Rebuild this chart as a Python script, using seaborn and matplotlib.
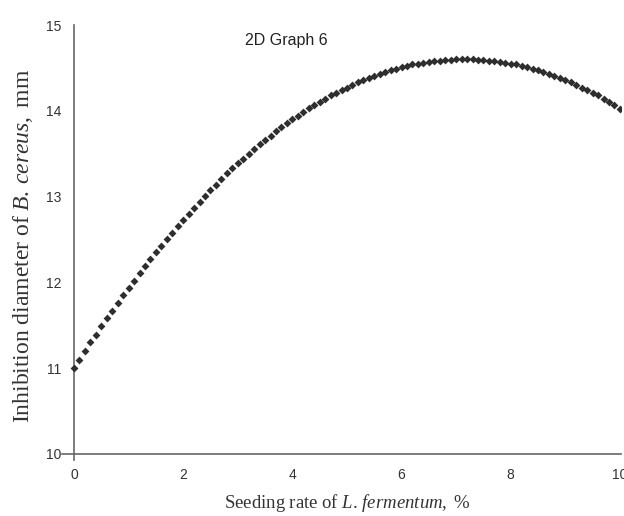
import matplotlib
matplotlib.use("Agg")
import matplotlib.pyplot as plt
import seaborn as sns
import pandas as pd

seeding_rate = [0.0, 0.1, 0.2, 0.3, 0.4, 0.5, 0.6, 0.7, 0.8, 0.9,
                1.0, 1.1, 1.2, 1.3, 1.4, 1.5, 1.6, 1.7, 1.8, 1.9,
                2.0, 2.1, 2.2, 2.3, 2.4, 2.5, 2.6, 2.7, 2.8, 2.9,
                3.0, 3.1, 3.2, 3.3, 3.4, 3.5, 3.6, 3.7, 3.8, 3.9,
                4.0, 4.1, 4.2, 4.3, 4.4, 4.5, 4.6, 4.7, 4.8, 4.9,
                5.0, 5.1, 5.2, 5.3, 5.4, 5.5, 5.6, 5.7, 5.8, 5.9,
                6.0, 6.1, 6.2, 6.3, 6.4, 6.5, 6.6, 6.7, 6.8, 6.9,
                7.0, 7.1, 7.2, 7.3, 7.4, 7.5, 7.6, 7.7, 7.8, 7.9,
                8.0, 8.1, 8.2, 8.3, 8.4, 8.5, 8.6, 8.7, 8.8, 8.9,
                9.0, 9.1, 9.2, 9.3, 9.4, 9.5, 9.6, 9.7, 9.8, 9.9, 10.0]

inhibition = [11.00, 11.10, 11.20, 11.30, 11.39, 11.49, 11.58, 11.67, 11.76, 11.85,
              11.94, 12.02, 12.11, 12.19, 12.27, 12.35, 12.43, 12.51, 12.58, 12.66,
              12.73, 12.80, 12.87, 12.94, 13.01, 13.08, 13.14, 13.20, 13.27, 13.33,
              13.39, 13.44, 13.50, 13.56, 13.61, 13.66, 13.71, 13.76, 13.81, 13.86,
              13.90, 13.94, 13.99, 14.03, 14.07, 14.10, 14.14, 14.18, 14.21, 14.24,
              14.27, 14.30, 14.33, 14.36, 14.38, 14.41, 14.43, 14.45, 14.47, 14.49,
              14.51, 14.52, 14.54, 14.55, 14.56, 14.57, 14.58, 14.58, 14.59, 14.59,
              14.60, 14.60, 14.60, 14.60, 14.59, 14.59, 14.58, 14.58, 14.57, 14.56,
              14.55, 14.54, 14.52, 14.51, 14.49, 14.47, 14.45, 14.43, 14.41, 14.38,
              14.36, 14.33, 14.30, 14.27, 14.24, 14.21, 14.18, 14.14, 14.10, 14.07, 14.02]

x_ticks = [0, 2, 4, 6, 8, 10]
y_ticks = [10, 11, 12, 13, 14, 15]

sns.set_style("white")
plt.rcParams["font.family"] = ["Liberation Sans", "DejaVu Sans"]
plt.rcParams["mathtext.fontset"] = "custom"
plt.rcParams["mathtext.rm"] = "Liberation Serif"
plt.rcParams["mathtext.it"] = "Liberation Serif:italic"

df = pd.DataFrame({"x": seeding_rate, "y": inhibition})

fig = plt.figure(figsize=(6.24, 5.16), dpi=100)
ax = fig.add_axes([62 / 624, 1 - 460 / 516, (621 - 62) / 624, (460 - 25) / 516])

sns.scatterplot(data=df, x="x", y="y", ax=ax, marker="D", s=16,
                color="#2e2e2e", linewidth=0, zorder=3)

ax.set_xlim(-0.22, 10.02)
ax.set_ylim(9.93, 15.0)
ax.spines["left"].set_position(("data", 0))
ax.spines["bottom"].set_position(("data", 10))
ax.spines["top"].set_visible(False)
ax.spines["right"].set_visible(False)
for s in ["left", "bottom"]:
    ax.spines[s].set_color("#666666")
    ax.spines[s].set_linewidth(1.2)

ax.set_xticks(x_ticks)
ax.set_yticks(y_ticks)
ax.tick_params(axis="both", direction="out", length=5, width=1, color="#666666",
               labelsize=10, labelcolor="#333333")
ax.tick_params(axis="x", pad=5)
ax.tick_params(axis="y", pad=4)

ax.set_xlabel("")
ax.set_ylabel("")
fig.text(347 / 624, 1 - 503 / 516,
         r"$\mathrm{Seeding\ rate\ of\ }\mathit{L.\!\ fermentum,\ \%}$",
         ha="center", va="center", fontsize=13.5, color="#333333")
fig.text(23 / 624, 1 - 246 / 516,
         r"$\mathrm{Inhibition\ diameter\ of\ }\mathit{B.\!\ cereus,}\mathrm{\ mm}$",
         ha="center", va="center", rotation=90, fontsize=17, color="#333333")
fig.text(286 / 624, 1 - 40 / 516, "2D Graph 6", ha="center", va="center",
         fontsize=11.5, color="#222222")

fig.savefig("out.png", dpi=100)
